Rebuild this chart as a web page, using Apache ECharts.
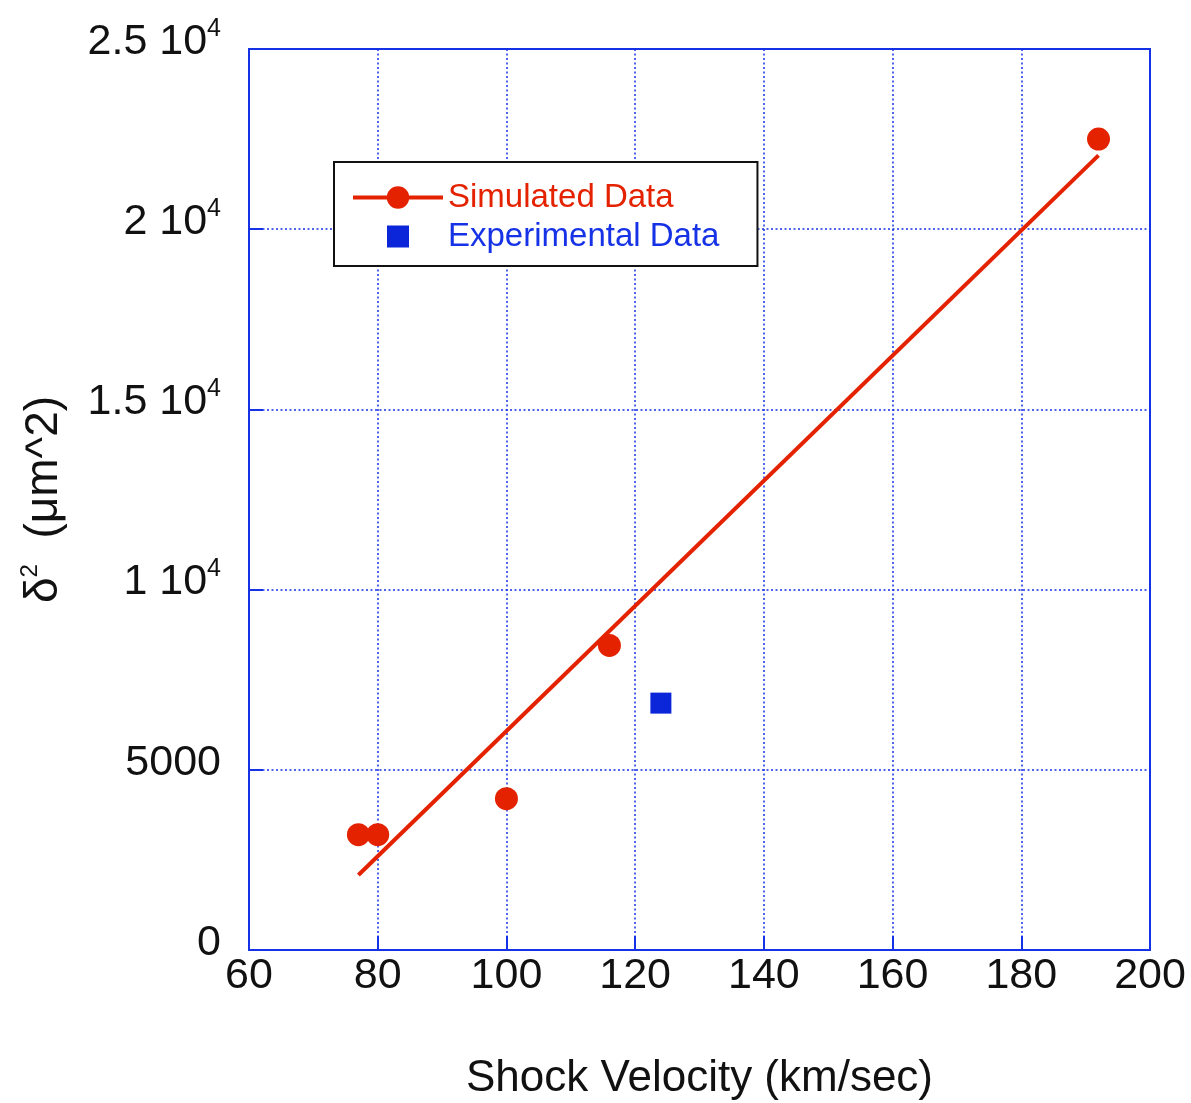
<!DOCTYPE html>
<html>
<head>
<meta charset="utf-8">
<script src="https://cdn.jsdelivr.net/npm/echarts@6/dist/echarts.min.js"></script>
<style>
  html, body { margin: 0; padding: 0; background: #fff; }
  #chart { width: 1191px; height: 1103px; }
</style>
</head>
<body>
<div id="chart"></div>
<script>
// datos
let simX = [77, 80, 100, 116, 192];
let simY = [3200, 3200, 4200, 8450, 22500];
let expX = [124];
let expY = [6850];
let fitX = [77, 192];
let fitY = [2080, 22050];

let rojo = '#e42200';
let azul = '#1632e6';
let fuente = '"Liberation Sans", Arial, sans-serif';

let pares = (xs, ys) => xs.map((x, i) => [x, ys[i]]);

let yFormato = (v) => {
    if (v === 0) return '0';
    if (v === 5000) return '5000';
    let m = v / 10000;
    return m + ' 10{sup|4}';
};

let chart = echarts.init(document.getElementById('chart'));

let option = {
    backgroundColor: '#fff',
    animation: false,
    grid: {
        left: 249, right: 41, top: 49, bottom: 153,
        outerBoundsMode: 'none',
        containLabel: false,
        show: true, borderColor: azul, borderWidth: 2, backgroundColor: 'transparent'
    },
    legend: {
        left: 334, top: 162,
        orient: 'vertical',
        backgroundColor: '#fff',
        borderColor: '#111',
        borderWidth: 2,
        borderRadius: 0,
        padding: [19, 38, 13, 17],
        itemWidth: 90,
        itemHeight: 28,
        itemGap: 6,
        textStyle: { fontFamily: fuente, fontSize: 33, lineHeight: 33 },
        data: [
            { name: 'Simulated Data', textStyle: { color: rojo }, lineStyle: { width: 4, color: rojo } },
            { name: 'Experimental Data', textStyle: { color: azul }, icon: 'path://M0,0M28,28M3,3h22v22h-22z' }
        ]
    },
    xAxis: {
        type: 'value', min: 60, max: 200, interval: 20,
        name: 'Shock Velocity (km/sec)',
        nameLocation: 'middle', nameGap: 107,
        nameTextStyle: { fontFamily: fuente, fontSize: 44, color: '#111' },
        axisLine: { show: true, lineStyle: { color: azul, width: 2 } },
        axisTick: { show: true, inside: true, length: 14, lineStyle: { color: azul, width: 2 } },
        axisLabel: { fontFamily: fuente, fontSize: 43, color: '#111', margin: 5 },
        splitLine: { show: true, lineStyle: { color: azul, type: [2, 2.5], width: 1.5 } }
    },
    yAxis: {
        type: 'value', min: 0, max: 25000, interval: 5000,
        name: '{d|δ}{s|2}{d|  (μm^2)}',
        nameLocation: 'middle', nameGap: 179, nameRotate: 90,
        nameTextStyle: {
            fontFamily: fuente, color: '#111',
            rich: {
                d: { fontFamily: fuente, fontSize: 46, color: '#111' },
                s: { fontFamily: fuente, fontSize: 24, color: '#111', padding: [0, 0, 28, 0] }
            }
        },
        axisLine: { show: true, lineStyle: { color: azul, width: 2 } },
        axisTick: { show: true, inside: true, length: 14, lineStyle: { color: azul, width: 2 } },
        axisLabel: {
            fontFamily: fuente, fontSize: 43, color: '#111', margin: 28,
            padding: [0, 0, 14, 0],
            formatter: yFormato,
            rich: {
                sup: { fontFamily: fuente, fontSize: 25, color: '#111', padding: [0, 0, 26, 0] }
            }
        },
        splitLine: { show: true, lineStyle: { color: azul, type: [2, 2.5], width: 1.5 } }
    },
    series: [{
        name: 'Simulated Data',
        type: 'line',
        data: pares(fitX, fitY),
        symbol: 'circle',
        symbolSize: 22,
        showSymbol: false,
        itemStyle: { color: rojo, opacity: 1 },
        lineStyle: { color: rojo, width: 4 },
        z: 3
    }, {
        name: 'puntos',
        type: 'scatter',
        data: pares(simX, simY),
        symbol: 'circle',
        symbolSize: 23,
        itemStyle: { color: rojo, opacity: 1 },
        z: 4
    }, {
        name: 'Experimental Data',
        type: 'scatter',
        data: pares(expX, expY),
        symbol: 'rect',
        symbolSize: 21,
        itemStyle: { color: '#0a26d8', opacity: 1 },
        z: 4
    }]
};

option && chart.setOption(option);
window.addEventListener('resize', chart.resize);
</script>
</body>
</html>
